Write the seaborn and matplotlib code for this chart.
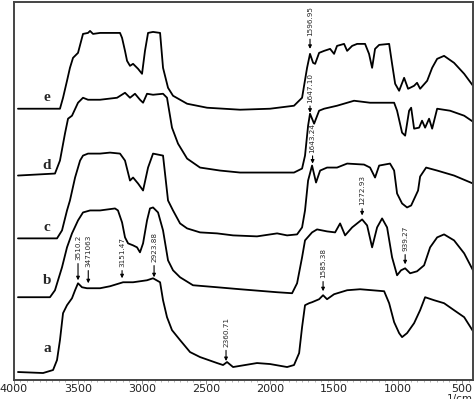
import pandas as pd
import numpy as np
import matplotlib
matplotlib.use("Agg")
import matplotlib.pyplot as plt
import seaborn as sns

# wavenumber (1/cm) and relative transmittance (offset traces, arbitrary units)
wn_a = [3969, 3773, 3695, 3664, 3641, 3617, 3586, 3547, 3523, 3500, 3469, 3430, 3328, 3250,
        3148, 3070, 2961, 2914, 2859, 2836, 2805, 2766, 2703, 2625, 2547, 2414, 2367, 2336,
        2289, 2102, 2000, 1867, 1813, 1773, 1750, 1727, 1695, 1672, 1617, 1586, 1555, 1500,
        1398, 1297, 1109, 1070, 1031, 992, 969, 930, 875, 828, 789, 719, 641, 563, 484, 415]
t_a = [8, 7, 10, 20, 40, 67, 75, 82, 90, 97, 93, 92, 92, 94,
       98, 98, 100, 102, 98, 80, 63, 50, 40, 28, 23, 17, 15, 18,
       13, 17, 16, 13, 15, 27, 53, 75, 77, 78, 81, 85, 81, 86,
       90, 91, 89, 77, 58, 47, 43, 47, 57, 70, 83, 80, 77, 70, 63, 49]

wn_b = [3969, 3719, 3680, 3625, 3586, 3547, 3500, 3461, 3406, 3328, 3211, 3188, 3156, 3133,
        3109, 3070, 3039, 3016, 2992, 2961, 2938, 2914, 2875, 2836, 2797, 2758, 2703, 2602,
        2414, 2234, 1945, 1828, 1789, 1750, 1727, 1672, 1633, 1555, 1492, 1453, 1414, 1359,
        1281, 1242, 1203, 1164, 1125, 1086, 1047, 1008, 977, 945, 906, 852, 797, 750, 695,
        641, 563, 484, 415]
t_b = [83, 83, 90, 113, 133, 147, 160, 168, 170, 170, 172, 170, 158, 143,
       137, 135, 133, 128, 137, 160, 172, 173, 168, 150, 120, 110, 103, 95,
       93, 91, 88, 87, 97, 123, 140, 148, 151, 149, 148, 157, 145, 153,
       161, 155, 133, 153, 162, 153, 123, 105, 110, 112, 107, 109, 115, 133, 143,
       146, 140, 127, 110]

wn_c = [3969, 3664, 3625, 3586, 3563, 3523, 3484, 3461, 3422, 3328, 3250, 3172, 3133, 3094,
        3070, 3031, 2992, 2953, 2914, 2836, 2797, 2758, 2703, 2648, 2547, 2414, 2289, 2102,
        1945, 1867, 1789, 1750, 1727, 1703, 1672, 1641, 1609, 1555, 1477, 1398, 1266, 1219,
        1180, 1148, 1063, 1031, 1008, 969, 930, 898, 844, 828, 781, 695, 563, 415]
t_c = [142, 142, 150, 170, 180, 203, 220, 225, 227, 227, 228, 227, 220, 200,
       203, 197, 190, 213, 227, 225, 180, 170, 157, 152, 148, 147, 145, 144,
       147, 145, 146, 153, 170, 200, 215, 198, 210, 213, 213, 217, 216, 213,
       203, 215, 217, 210, 187, 177, 173, 175, 190, 204, 213, 210, 205, 197]

wn_d = [3969, 3680, 3641, 3602, 3578, 3547, 3500, 3461, 3422, 3328, 3195, 3133, 3094, 3055,
        3016, 2992, 2961, 2914, 2836, 2805, 2766, 2719, 2648, 2547, 2391, 2234, 2000, 1813,
        1750, 1727, 1703, 1688, 1656, 1617, 1578, 1477, 1344, 1219, 1031, 1008, 969, 945,
        914, 898, 875, 836, 813, 789, 758, 734, 695, 594, 484, 415]
t_d = [205, 207, 220, 247, 262, 265, 278, 283, 281, 281, 283, 288, 283, 287,
       281, 278, 287, 286, 287, 283, 253, 237, 222, 213, 210, 208, 208, 208,
       212, 225, 255, 267, 257, 270, 272, 275, 280, 278, 278, 270, 248, 245,
       270, 273, 252, 253, 260, 253, 262, 252, 272, 270, 265, 259]

wn_e = [3969, 3719, 3641, 3617, 3586, 3563, 3539, 3500, 3461, 3422, 3406, 3383, 3328, 3250,
        3172, 3156, 3133, 3117, 3094, 3070, 3031, 3000, 2977, 2953, 2914, 2859, 2836, 2797,
        2758, 2648, 2492, 2234, 2000, 1813, 1750, 1711, 1688, 1664, 1648, 1617, 1578, 1531,
        1500, 1477, 1422, 1398, 1359, 1320, 1258, 1227, 1203, 1180, 1148, 1070, 1047, 1023,
        992, 953, 922, 906, 875, 852, 828, 773, 734, 695, 641, 563, 484, 415]
t_e = [272, 272, 272, 283, 300, 313, 323, 328, 347, 348, 350, 347, 348, 348,
       348, 343, 330, 320, 315, 317, 312, 307, 330, 348, 349, 348, 313, 293,
       285, 277, 273, 271, 272, 275, 283, 313, 327, 318, 317, 328, 330, 332,
       327, 335, 337, 330, 335, 337, 337, 327, 313, 332, 336, 337, 317, 297,
       290, 303, 292, 293, 295, 298, 292, 300, 313, 322, 325, 318, 307, 295]

trace_names = ["a", "b", "c", "d", "e"]
trace_wn = [wn_a, wn_b, wn_c, wn_d, wn_e]
trace_t = [t_a, t_b, t_c, t_d, t_e]
label_wn = 3742
label_t = [32, 100, 153, 215, 283]

# peak annotations: text, wavenumber, arrow head, text base
peak_text = ["1596.95", "1647.10", "1643.24", "1272.93", "939.27", "1585.38",
             "3510.2", "3471063", "3151.47", "2923.88", "2360.71"]
peak_wn = [1688, 1688, 1668, 1281, 945, 1586, 3500, 3420, 3156, 2906, 2344]
peak_head = [332, 268, 217, 165, 116, 89, 100, 97, 102, 103, 19]
peak_base = [345, 278, 228, 175, 129, 102, 120, 113, 113, 118, 33]

sns.set_style("white")
plt.rcParams["font.family"] = ["DejaVu Sans"]

fig = plt.figure(figsize=(4.74, 3.99), dpi=100)
ax = fig.add_axes([14 / 474, 19 / 399, 459 / 474, 378 / 399])

for name, wn, t in zip(trace_names, trace_wn, trace_t):
    df = pd.DataFrame({"wn": wn, "t": t})
    sns.lineplot(data=df, x="wn", y="t", ax=ax, color="black", lw=1.3,
                 sort=False, estimator=None)
    ax.text(label_wn, label_t[trace_names.index(name)], name, ha="center", va="center",
            fontsize=11, fontweight="bold", family=["Liberation Serif", "DejaVu Serif"])

for txt, x, head, base in zip(peak_text, peak_wn, peak_head, peak_base):
    ax.annotate(txt, xy=(x, head), xytext=(x, base), rotation=90,
                ha="center", va="bottom", fontsize=5.2,
                family=["Liberation Sans Narrow", "DejaVu Sans"],
                arrowprops=dict(arrowstyle="-|>", color="black", lw=0.8,
                                mutation_scale=5, shrinkA=0, shrinkB=0))

ax.set_xlim(4000, 415)
ax.set_ylim(0, 379)
ax.set_xticks([4000, 3500, 3000, 2500, 2000, 1500, 1000, 500])
ax.set_xticks(np.arange(450, 4000, 50), minor=True)
ax.set_yticks([])
ax.set_xlabel("")
ax.set_ylabel("")
ax.tick_params(axis="x", which="major", direction="out", length=3, width=0.6,
               color="#777777", labelsize=8, labelcolor="#222222", pad=0)
ax.tick_params(axis="x", which="minor", direction="out", length=1.5, width=0.5,
               color="#999999")
ax.xaxis.set_ticks_position("bottom")
for side in ax.spines.values():
    side.set_color("#444444")
    side.set_linewidth(1.4)

fig.text(473 / 474, 5 / 399, "1/cm", ha="right", va="top", fontsize=7.5, color="#222222")

fig.savefig("out.png", dpi=100)
